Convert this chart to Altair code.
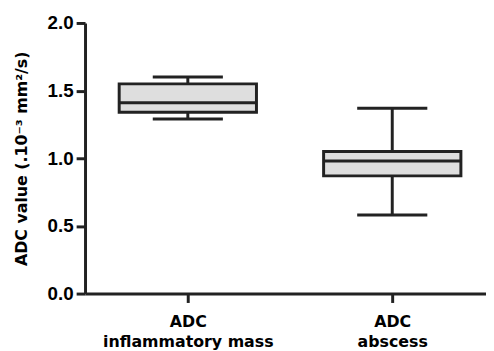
import altair as alt
import pandas as pd

groups = ["ADC\ninflammatory mass", "ADC\nabscess"]
whisker_low = [1.29, 0.58]
q1 = [1.34, 0.87]
median = [1.41, 0.98]
q3 = [1.55, 1.05]
whisker_high = [1.60, 1.37]
y_ticks = [0.0, 0.5, 1.0, 1.5, 2.0]

df = pd.DataFrame({
    "group": groups,
    "lo": whisker_low,
    "q1": q1,
    "med": median,
    "q3": q3,
    "hi": whisker_high,
})

ink = "#222222"
FONT = "DejaVu Sans"

x = alt.X(
    "group:N",
    sort=groups,
    scale=alt.Scale(type="point", padding=0.4807, align=0.523),
    axis=alt.Axis(
        title=None,
        labelAngle=0,
        labelExpr="split(datum.label, '\\n')",
        labelFont=FONT,
        labelFontSize=16,
        labelLineHeight=21,
        labelPadding=11,
        labelBaseline="top",
    ),
)
yscale = alt.Scale(domain=[0, 2], nice=False, zero=True)
yaxis = alt.Axis(
    title="ADC value (.10⁻³ mm²/s)",
    values=y_ticks,
    format=".1f",
    labelFont="Liberation Sans",
    labelFontSize=19,
    labelPadding=3,
    titleFont=FONT,
    titleFontSize=16,
    titlePadding=18,
)

base = alt.Chart(df)

whisk = base.mark_rule(color=ink, strokeWidth=3).encode(
    x=x,
    y=alt.Y("lo:Q", scale=yscale, axis=yaxis),
    y2="hi:Q",
)
box = base.mark_bar(size=139, fill="#dedede", stroke=ink, strokeWidth=3).encode(
    x=x,
    y=alt.Y("q1:Q", scale=yscale, axis=yaxis),
    y2="q3:Q",
)
med = base.mark_tick(size=139, thickness=3, color=ink, opacity=1).encode(
    x=x, y=alt.Y("med:Q", scale=yscale, axis=yaxis)
)
cap_lo = base.mark_tick(size=71, thickness=3, color=ink, opacity=1).encode(
    x=x, y=alt.Y("lo:Q", scale=yscale, axis=yaxis)
)
cap_hi = base.mark_tick(size=71, thickness=3, color=ink, opacity=1).encode(
    x=x, y=alt.Y("hi:Q", scale=yscale, axis=yaxis)
)

chart = (
    alt.layer(whisk, box, med, cap_lo, cap_hi)
    .properties(width=406, height=274, padding={"left": 5, "top": 4, "right": 0, "bottom": 0})
    .configure_view(stroke=None)
    .configure_axis(
        grid=False,
        domainColor=ink,
        domainWidth=3,
        tickColor=ink,
        tickWidth=3,
        tickSize=9,
        labelFontWeight="bold",
        labelColor="#000000",
        titleFontWeight="bold",
        titleColor="#000000",
    )
)

chart.save("out.html", embed_options={"renderer": "svg", "actions": False})
